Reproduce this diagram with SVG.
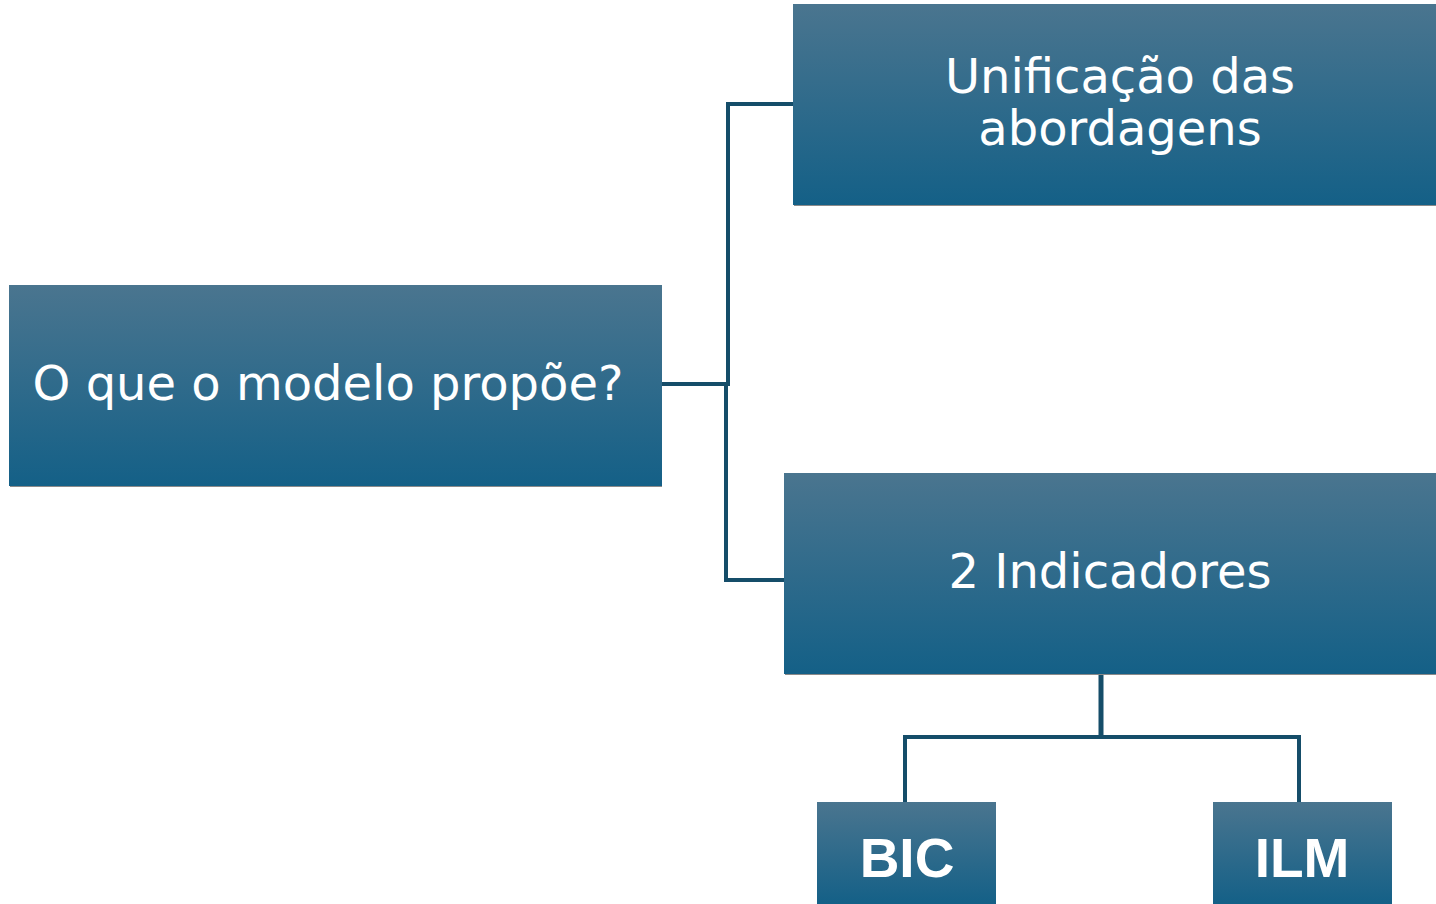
<svg xmlns="http://www.w3.org/2000/svg" width="1436" height="904" viewBox="0 0 1436 904">
  <defs>
    <linearGradient id="boxFill" x1="0" y1="0" x2="0" y2="1">
      <stop offset="0" stop-color="#4a758f"/>
      <stop offset="1" stop-color="#146087"/>
    </linearGradient>
    <style>
      .box { fill: url(#boxFill); }
      .shade { fill: #8a8a8a; }
      .label { font-family: "DejaVu Sans", sans-serif; font-size: 48px; fill: #ffffff; text-anchor: middle; }
      .bold { font-family: "Liberation Sans", Arial, sans-serif; font-size: 55px; font-weight: bold; fill: #ffffff; text-anchor: middle; }
      .link { fill: none; stroke: #154d69; stroke-width: 4; }
    </style>
  </defs>
  <rect width="1436" height="904" fill="#ffffff"/>

  <g id="connectors">
    <polyline class="link" points="662,384 728,384 728,104 793,104"/>
    <polyline class="link" points="726,384 726,580 784,580"/>
    <polyline class="link" points="1101,674 1101,737" style="stroke-width:5"/>
    <polyline class="link" points="905,802 905,737 1299,737 1299,802"/>
  </g>

  <g id="node-question">
    <rect class="shade" x="10" y="485" width="652" height="2"/>
    <rect class="box" x="9" y="285" width="653" height="201"/>
    <text class="label" x="328" y="400">O que o modelo propõe?</text>
  </g>

  <g id="node-unificacao">
    <rect class="shade" x="794" y="204" width="642" height="2"/>
    <rect class="box" x="793" y="4" width="643" height="201"/>
    <text class="label" x="1120" y="93">Unificação das</text>
    <text class="label" x="1120" y="145">abordagens</text>
  </g>

  <g id="node-indicadores">
    <rect class="shade" x="785" y="673" width="651" height="2"/>
    <rect class="box" x="784" y="473" width="652" height="201"/>
    <text class="label" x="1110" y="588">2 Indicadores</text>
  </g>

  <g id="node-bic">
    <rect class="box" x="817" y="802" width="179" height="102"/>
    <text class="bold" x="907" y="877">BIC</text>
  </g>

  <g id="node-ilm">
    <rect class="box" x="1213" y="802" width="179" height="102"/>
    <text class="bold" x="1302" y="877">ILM</text>
  </g>
</svg>
